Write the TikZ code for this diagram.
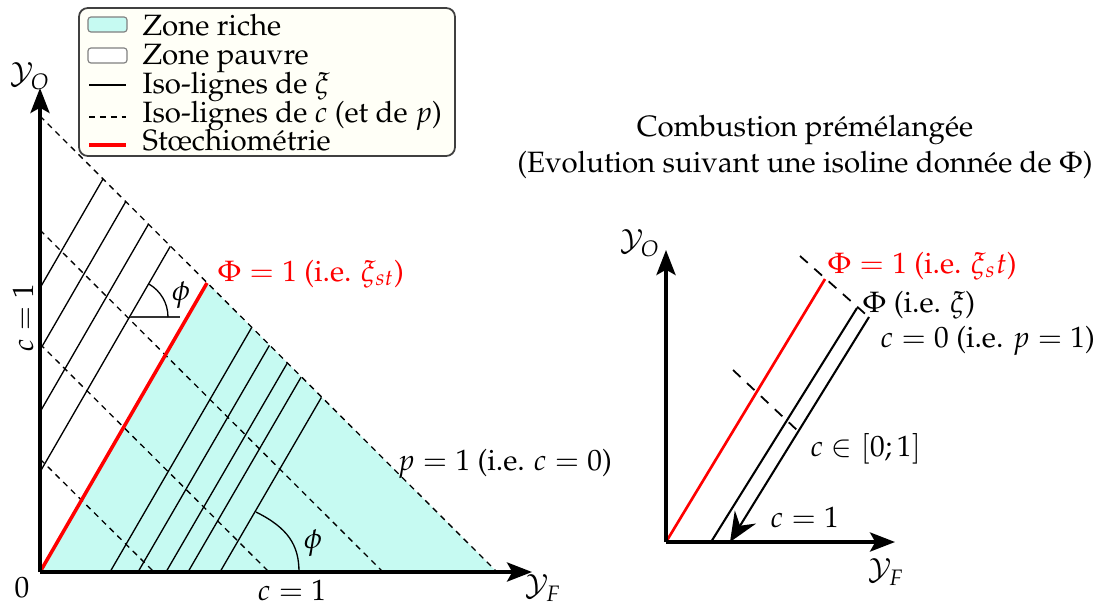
\documentclass[tikz,border=0pt]{standalone}
\usepackage[T1]{fontenc}
\usepackage{mathpazo}
\usetikzlibrary{arrows.meta}
\definecolor{richecol}{RGB}{198,250,242}
\definecolor{legcol}{RGB}{255,255,247}

\begin{document}
\begin{tikzpicture}[x=0.34pt,y=-0.34pt,
  axe/.style={line width=1.15pt,-{Stealth[length=8.5pt,width=6.5pt,inset=1.8pt]}},
  isoxi/.style={line width=0.45pt},
  isoc/.style={line width=0.45pt,dash pattern=on 2pt off 1.7pt},
  stoech/.style={red,line width=1.2pt},
  etiq/.style={anchor=base west,inner sep=0pt}]
\useasboundingbox (0,0) rectangle (1098,605);

% Zone riche
\coordinate (O) at (40,572);
\coordinate (H1) at (40,116);
\coordinate (H2) at (497,572);
\coordinate (S) at (207,283);
\fill[richecol] (O) -- (S) -- (H2) -- cycle;
% Iso-lignes de xi
\foreach \yb/\xe/\ye in {288/103/179, 350/125.7/201.7, 412/148.4/224.3, 472/170.3/246.3}
  \draw[isoxi] (40,\yb) -- (\xe,\ye);
\foreach \xb/\xe/\ye in {110/251.6/327.6, 138/269.4/345.4, 166/287.2/363.2, 188/301.1/377.1, 220/321.4/397.4}
  \draw[isoxi] (\xb,572) -- (\xe,\ye);
% Iso-lignes de c
\draw[isoc] (H1) -- (H2);
\foreach \yb/\xe in {230/383, 344/269, 459/154}
  \draw[isoc] (40,\yb) -- (\xe,572);
% Stoechiometrie
\draw[stoech] (O) -- (S);
% Angles
\draw[isoxi,black!80] (130,317) -- (180,317);
\draw[isoxi] (168,317) arc[start angle=0,end angle=-60,radius=38];
\draw[isoxi] (256,512) .. controls (288,528) and (299,545) .. (299,572);
% Axes
\coordinate (yotip) at (40,88);
\coordinate (yftip) at (532,572);
\draw[axe] (O) -- (yotip);
\draw[axe] (O) -- (yftip);
% Labels
\node (yo) at (30,76) {$\mathcal{Y}_O$};
\node (yf) at (543,588) {$\mathcal{Y}_F$};
\node (zero) at (22,588) {$0$};
\node (cbas) at (292,590) {$c=1$};
\node[rotate=90] (cgauche) at (23,318) {$c=1$};
\node[etiq,red] (phiun) at (217,281) {$\Phi=1$ (i.e. $\xi_{st}$)};
\node[etiq] (pun) at (397,470) {$p=1$ (i.e. $c=0$)};
\node (phihaut) at (181,295) {$\phi$};
\node (phibas) at (313,543) {$\phi$};

% Legende
\draw[rounded corners=3pt,fill=legcol,draw=black!75,line width=0.6pt] (79,8) rectangle (455,156);
\draw[rounded corners=1pt,fill=richecol,draw=black!50] (88,17) rectangle (127,32);
\draw[rounded corners=1pt,fill=white,draw=black!50] (88,48) rectangle (127,63);
\draw[isoxi] (89,85) -- (126,85);
\draw[isoc] (89,117) -- (126,117);
\draw[stoech] (89,145) -- (126,145);
\node[etiq] (leg1) at (142,35) {Zone riche};
\node[etiq] (leg2) at (142,64) {Zone pauvre};
\node[etiq] (leg3) at (142,93) {Iso-lignes de $\xi$};
\node[etiq] (leg4) at (142,122) {Iso-lignes de $c$ (et de $p$)};
\node[etiq] (leg5) at (142,150) {St\oe chiom\'etrie};

% Combustion premelangee
\node[align=center] (titre) at (805,147) {Combustion pr\'em\'elang\'ee\\(Evolution suivant une isoline donn\'ee de $\Phi$)};
\coordinate (O2) at (666,542);
\coordinate (yotip2) at (666,250);
\coordinate (yftip2) at (895,542);
\coordinate (S2) at (825,279);
\coordinate (A1) at (711,542);
\coordinate (B1) at (857,308);
\coordinate (A2) at (730,542);
\coordinate (B2) at (869,317);
\draw[red,line width=0.9pt] (O2) -- (S2);
\draw[line width=0.7pt] (A1) -- (B1);
\draw[line width=0.7pt,-{Stealth[length=10pt,width=8.5pt,inset=3.5pt]}] (B2) -- (A2);
\draw[line width=0.6pt,dash pattern=on 3.5pt off 3pt] (800,256) -- (871,319);
\draw[line width=0.6pt,dash pattern=on 3.5pt off 3pt] (733,370) -- (798,431);
\draw[axe] (O2) -- (yotip2);
\draw[axe] (O2) -- (yftip2);
\node (yo2) at (640,243) {$\mathcal{Y}_O$};
\node (yf2) at (886,572) {$\mathcal{Y}_F$};
\node[etiq,red] (phiun2) at (827,273) {$\Phi=1$ (i.e. $\xi_st$)};
\node[etiq] (phi2) at (862,312) {$\Phi$ (i.e. $\xi$)};
\node[etiq] (czero) at (880,347) {$c=0$ (i.e. $p=1$)};
\node[etiq] (cint) at (810,456) {$c\in[0;1]$};
\node[etiq] (cun) at (770,527) {$c=1$};
\end{tikzpicture}
\end{document}
